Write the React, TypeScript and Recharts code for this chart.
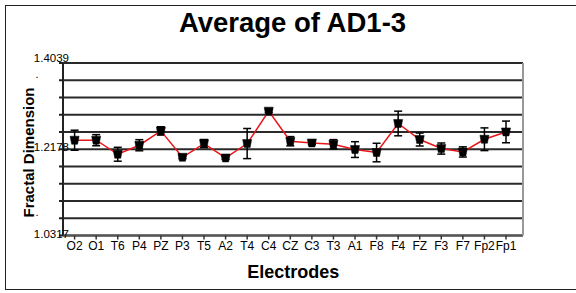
import React from 'react';
import { LineChart, Line, XAxis, YAxis, CartesianGrid, ErrorBar } from 'recharts';

const electrodes = ['O2', 'O1', 'T6', 'P4', 'PZ', 'P3', 'T5', 'A2', 'T4', 'C4', 'CZ', 'C3', 'T3', 'A1', 'F8', 'F4', 'FZ', 'F3', 'F7', 'Fp2', 'Fp1'];
const meanFD = [1.2373, 1.2373, 1.2070, 1.2265, 1.2574, 1.2005, 1.2301, 1.1990, 1.2301, 1.3000, 1.2351, 1.2314, 1.2286, 1.2171, 1.2107, 1.2734, 1.2388, 1.2193, 1.2120, 1.2394, 1.2552];
const errFD = [0.0216, 0.012, 0.015, 0.012, 0.009, 0.003, 0.0087, 0.003, 0.0325, 0.003, 0.010, 0.004, 0.010, 0.017, 0.020, 0.0266, 0.014, 0.012, 0.011, 0.0245, 0.0234];
const yTicks = [1.0317, 1.0689, 1.1061, 1.1434, 1.1806, 1.2178, 1.2550, 1.2922, 1.3295, 1.3667, 1.4039];
const yLabels = ['1.0317', '1.2178', '1.4039'];

const data = electrodes.map((e, i) => ({ name: e, fd: meanFD[i], err: errFD[i] }));

const FONT = '"Liberation Sans", Arial, sans-serif';

const MarkerDot = (props: any) => {
  const { cx, cy } = props;
  if (cx == null || cy == null) return null;
  const pts = `${cx - 4.5},${cy - 4} ${cx + 4.5},${cy - 4} ${cx + 3},${cy + 4} ${cx - 3},${cy + 4}`;
  return <polygon points={pts} fill="#000" stroke="#000" strokeWidth={0.5} />;
};

const YTick = (props: any) => {
  const { y, payload } = props;
  const label = payload.value.toFixed(4);
  if (!yLabels.includes(label)) return null;
  const dy = label === '1.4039' ? -5 : -2;
  return (
    <text x={69} y={y + dy} textAnchor="end" dominantBaseline="central" fontSize={11.5} fontFamily={FONT} fill="#000">
      {label}
    </text>
  );
};

export default function App() {
  return (
    <div style={{ position: 'absolute', left: 0, top: 0, width: 576, height: 293, background: '#fff', overflow: 'hidden' }}>
      <div style={{ position: 'absolute', left: 5, top: 5, width: 580, height: 285, border: '1.5px solid #222', boxSizing: 'border-box' }} />
      <LineChart
        width={576}
        height={293}
        data={data}
        margin={{ top: 63, right: 53, bottom: 27.5, left: 0 }}
        style={{ position: 'absolute', left: 0, top: 0 }}
      >
        <CartesianGrid vertical={false} stroke="#2a2a2a" strokeWidth={2} horizontalValues={yTicks} />
        <XAxis
          dataKey="name"
          height={30}
          padding={{ left: 11.6, right: 17 }}
          interval={0}
          tickSize={4}
          tickLine={{ stroke: '#333', strokeWidth: 1.5 }}
          axisLine={{ stroke: '#555', strokeWidth: 2 }}
          tick={{ fontSize: 12, fill: '#000', fontFamily: FONT }}
        />
        <YAxis
          width={63}
          type="number"
          domain={[1.0317, 1.4039]}
          ticks={yTicks}
          interval={0}
          tickSize={4}
          tickLine={{ stroke: '#222', strokeWidth: 2 }}
          axisLine={{ stroke: '#222', strokeWidth: 2 }}
          tick={<YTick />}
        />
        <Line
          dataKey="fd"
          stroke="#e8161b"
          strokeWidth={1.5}
          dot={<MarkerDot />}
          activeDot={false}
          isAnimationActive={false}
        >
          <ErrorBar dataKey="err" direction="y" width={4} stroke="#000" strokeWidth={1.5} />
        </Line>
      </LineChart>
      <svg width={576} height={293} style={{ position: 'absolute', left: 0, top: 0, pointerEvents: 'none' }}>
        <line x1={523} y1={63} x2={523} y2={235.5} stroke="#999" strokeWidth={2} />
        <text x={292.5} y={32.3} textAnchor="middle" fontSize={27.5} fontWeight="bold" fontFamily={FONT} fill="#000">
          Average of AD1-3
        </text>
        <text x={293.3} y={278.3} textAnchor="middle" fontSize={18} fontWeight="bold" fontFamily={FONT} fill="#000">
          Electrodes
        </text>
        <text x={37} y={78} textAnchor="middle" fontSize={11} fontFamily={FONT} fill="#000">.</text>
        <text x={37} y={216} textAnchor="middle" fontSize={11} fontFamily={FONT} fill="#000">.</text>
        <text
          x={0}
          y={0}
          transform="translate(34,152.5) rotate(-90)"
          textAnchor="middle"
          fontSize={15}
          fontWeight="bold"
          fontFamily={FONT}
          fill="#000"
        >
          Fractal Dimension
        </text>
      </svg>
    </div>
  );
}
